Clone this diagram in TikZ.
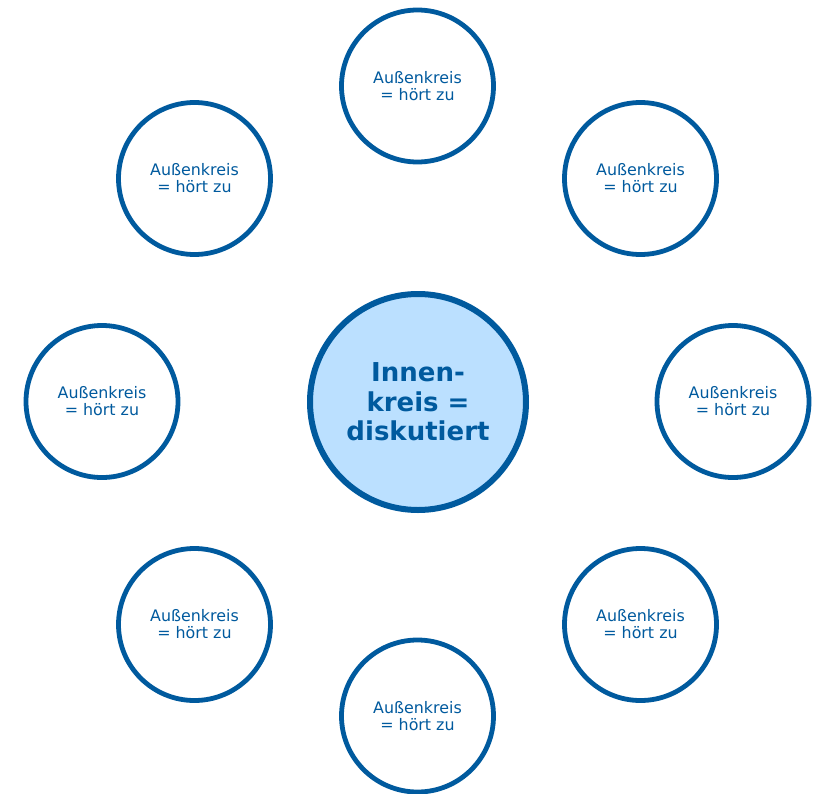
\documentclass[tikz,border=0pt]{standalone}
\usepackage{fontspec}
\setmainfont{DejaVu Sans}
\definecolor{cblue}{RGB}{0,90,158}
\definecolor{cfill}{RGB}{187,224,255}
\begin{document}
\begin{tikzpicture}[x=0.75pt,y=-0.75pt,
  outercirc/.style={circle,draw=cblue,line width=3.6pt,fill=white,minimum size=114pt,inner sep=0pt,text=cblue,align=center,font=\fontsize{11.9}{12.75}\selectfont},
  innercirc/.style={circle,draw=cblue,line width=4.5pt,fill=cfill,minimum size=162pt,inner sep=0pt,text=cblue,align=center,font=\bfseries\fontsize{19.5}{22.1}\selectfont}]
\useasboundingbox (0,0) rectangle (818,793);
\node[innercirc] (c) at (418,402) {Innen-\\kreis =\\diskutiert};
\node[outercirc] (n) at (417.5,86) {Außenkreis\\= hört zu};
\node[outercirc] (s) at (417.5,716) {Außenkreis\\= hört zu};
\node[outercirc] (w) at (102,401.5) {Außenkreis\\= hört zu};
\node[outercirc] (e) at (733,401.5) {Außenkreis\\= hört zu};
\node[outercirc] (nw) at (194.5,178.5) {Außenkreis\\= hört zu};
\node[outercirc] (ne) at (640.5,178.5) {Außenkreis\\= hört zu};
\node[outercirc] (sw) at (194.5,624.5) {Außenkreis\\= hört zu};
\node[outercirc] (se) at (640.5,624.5) {Außenkreis\\= hört zu};
\end{tikzpicture}
\end{document}
